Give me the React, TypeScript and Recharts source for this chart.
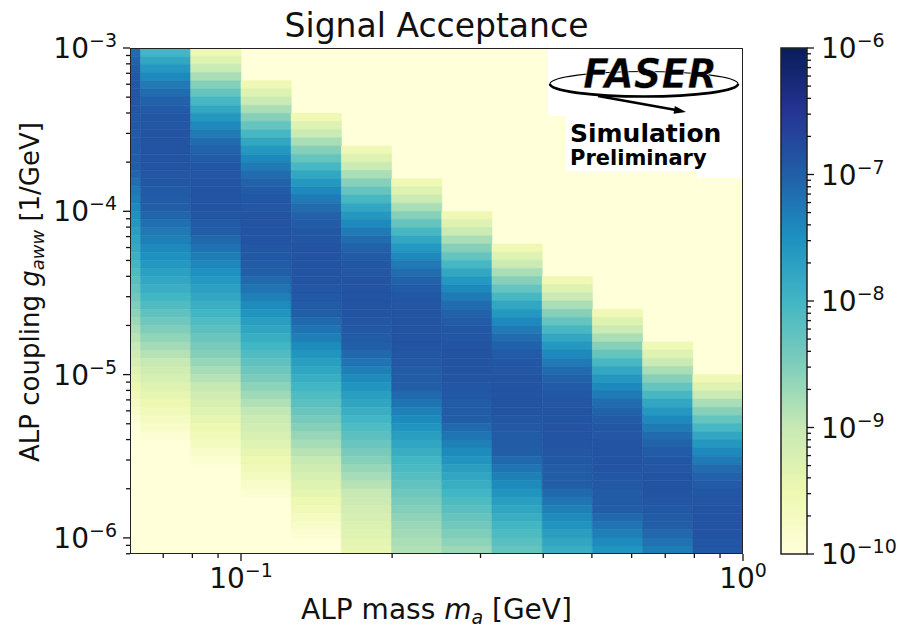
import React from 'react';
import { ComposedChart, XAxis, YAxis, ReferenceArea, Label, Scatter } from 'recharts';

const FONT = '"DejaVu Sans", "Liberation Sans", sans-serif';
const INK = '#111';

// ALP mass bin edges [GeV]
const massBinEdges = [0.0501, 0.0631, 0.0794, 0.1, 0.1259, 0.1585, 0.1995, 0.2512, 0.3162, 0.3981, 0.5012, 0.631, 0.7943, 1.0];

// log10 of the coupling bin edges [1/GeV], top to bottom
const couplingEdgeExp = [
  -3.0, -3.05, -3.1, -3.15, -3.2, -3.25, -3.3, -3.35, -3.4, -3.45,
  -3.5, -3.55, -3.6, -3.65, -3.7, -3.75, -3.8, -3.85, -3.9, -3.95,
  -4.0, -4.05, -4.1, -4.15, -4.2, -4.25, -4.3, -4.35, -4.4, -4.45,
  -4.5, -4.55, -4.6, -4.65, -4.7, -4.75, -4.8, -4.85, -4.9, -4.95,
  -5.0, -5.05, -5.1, -5.15, -5.2, -5.25, -5.3, -5.35, -5.4, -5.45,
  -5.5, -5.55, -5.6, -5.65, -5.7, -5.75, -5.8, -5.85, -5.9, -5.95,
  -6.0, -6.05, -6.1,
];

// first coupling row (index into couplingEdgeExp) with a non-zero acceptance, per mass column
const columnTopRow = [0, 0, 0, 4, 8, 12, 16, 20, 24, 28, 32, 36, 40];

// log10(signal acceptance), per mass column, from its top row downwards
const acc0 = [-7.14, -7.05, -6.98, -6.94, -6.92, -6.91, -6.91, -6.92, -6.93, -6.94,
  -6.95, -6.96, -6.98, -6.99, -7.0, -7.08, -7.17, -7.25, -7.33, -7.42,
  -7.5, -7.58, -7.67, -7.75, -7.83, -7.92, -8.0, -8.1, -8.2, -8.3,
  -8.4, -8.5, -8.6, -8.7, -8.8, -8.9, -9.0, -9.1, -9.2, -9.3,
  -9.4, -9.5, -9.6, -9.7, -9.8, -9.9, -10];
const acc1 = [-8.0, -7.8, -7.6, -7.42, -7.27, -7.14, -7.04, -6.97, -6.92, -6.9,
  -6.88, -6.87, -6.87, -6.87, -6.88, -6.9, -6.92, -6.95, -6.98, -7.0,
  -7.08, -7.17, -7.25, -7.33, -7.42, -7.5, -7.6, -7.7, -7.8, -7.9,
  -8.0, -8.12, -8.25, -8.37, -8.5, -8.62, -8.75, -8.87, -9.0, -9.1,
  -9.2, -9.3, -9.4, -9.5, -9.6, -9.7, -9.8, -9.9, -10];
const acc2 = [-9.55, -9.3, -9.05, -8.8, -8.55, -8.3, -8.05, -7.8, -7.6, -7.42,
  -7.27, -7.14, -7.04, -6.97, -6.92, -6.9, -6.88, -6.87, -6.87, -6.88,
  -6.92, -6.96, -7.0, -7.1, -7.2, -7.3, -7.4, -7.5, -7.6, -7.7,
  -7.8, -7.9, -8.0, -8.11, -8.22, -8.33, -8.44, -8.55, -8.66, -8.77,
  -8.88, -9.0, -9.1, -9.2, -9.3, -9.4, -9.5, -9.6, -9.7, -9.8,
  -9.9, -10];
const acc3 = [-9.55, -9.3, -9.05, -8.8, -8.55, -8.3, -8.05, -7.8, -7.6, -7.42,
  -7.27, -7.14, -7.04, -6.97, -6.92, -6.9, -6.88, -6.87, -6.87, -6.88,
  -6.9, -6.93, -6.96, -7.0, -7.11, -7.22, -7.33, -7.44, -7.56, -7.67,
  -7.78, -7.89, -8.0, -8.12, -8.24, -8.36, -8.48, -8.6, -8.72, -8.84,
  -8.96, -9.05, -9.14, -9.23, -9.32, -9.41, -9.5, -9.6, -9.7, -9.8,
  -9.9, -10];
const acc4 = [-9.55, -9.3, -9.05, -8.8, -8.55, -8.3, -8.05, -7.8, -7.6, -7.42,
  -7.27, -7.14, -7.04, -6.97, -6.92, -6.9, -6.88, -6.87, -6.87, -6.87,
  -6.88, -6.9, -6.93, -6.96, -7.0, -7.11, -7.22, -7.33, -7.44, -7.56,
  -7.67, -7.78, -7.89, -8.0, -8.11, -8.22, -8.33, -8.44, -8.55, -8.66,
  -8.77, -8.88, -9.0, -9.1, -9.2, -9.3, -9.4, -9.5, -9.6, -9.7,
  -9.8, -9.9, -10];
const acc5 = [-9.55, -9.3, -9.05, -8.8, -8.55, -8.3, -8.05, -7.8, -7.6, -7.42,
  -7.27, -7.14, -7.04, -6.97, -6.92, -6.9, -6.88, -6.87, -6.87, -6.87,
  -6.88, -6.9, -6.93, -6.96, -7.0, -7.11, -7.22, -7.33, -7.44, -7.56,
  -7.67, -7.78, -7.89, -8.0, -8.11, -8.22, -8.33, -8.44, -8.55, -8.66,
  -8.77, -8.88, -9.0, -9.07, -9.14, -9.2, -9.26, -9.32, -9.38, -9.44];
const acc6 = [-9.55, -9.3, -9.05, -8.8, -8.55, -8.3, -8.05, -7.8, -7.6, -7.42,
  -7.27, -7.14, -7.04, -6.97, -6.92, -6.9, -6.88, -6.87, -6.87, -6.87,
  -6.88, -6.9, -6.93, -6.96, -6.98, -7.0, -7.11, -7.22, -7.33, -7.44,
  -7.56, -7.67, -7.78, -7.89, -8.0, -8.09, -8.18, -8.27, -8.36, -8.45,
  -8.53, -8.61, -8.68, -8.74, -8.8, -8.85];
const acc7 = [-9.55, -9.3, -9.05, -8.8, -8.55, -8.3, -8.05, -7.8, -7.6, -7.42,
  -7.27, -7.14, -7.04, -6.97, -6.92, -6.9, -6.88, -6.87, -6.87, -6.87,
  -6.88, -6.9, -6.93, -6.96, -6.98, -7.0, -7.11, -7.22, -7.33, -7.44,
  -7.56, -7.67, -7.78, -7.89, -8.0, -8.1, -8.2, -8.3, -8.4, -8.5,
  -8.6, -8.7];
const acc8 = [-9.55, -9.3, -9.05, -8.8, -8.55, -8.3, -8.05, -7.8, -7.6, -7.42,
  -7.27, -7.14, -7.04, -6.97, -6.92, -6.9, -6.88, -6.87, -6.87, -6.87,
  -6.88, -6.9, -6.93, -6.96, -6.98, -7.0, -7.11, -7.22, -7.33, -7.44,
  -7.56, -7.67, -7.78, -7.89, -8.0, -8.1, -8.2, -8.3];
const acc9 = [-9.55, -9.3, -9.05, -8.8, -8.55, -8.3, -8.05, -7.8, -7.6, -7.42,
  -7.27, -7.14, -7.04, -6.97, -6.92, -6.9, -6.88, -6.87, -6.87, -6.87,
  -6.88, -6.9, -6.93, -6.96, -6.98, -7.0, -7.11, -7.22, -7.33, -7.44,
  -7.56, -7.67, -7.78, -7.89];
const acc10 = [-9.55, -9.3, -9.05, -8.8, -8.55, -8.3, -8.05, -7.8, -7.6, -7.42,
  -7.27, -7.14, -7.04, -6.97, -6.92, -6.9, -6.88, -6.87, -6.87, -6.88,
  -6.9, -6.93, -6.96, -6.98, -7.0, -7.11, -7.22, -7.33, -7.44, -7.56];
const acc11 = [-9.55, -9.3, -9.05, -8.8, -8.55, -8.3, -8.05, -7.8, -7.6, -7.42,
  -7.27, -7.14, -7.04, -6.97, -6.92, -6.9, -6.88, -6.87, -6.88, -6.9,
  -6.93, -6.96, -7.0, -7.1, -7.2, -7.3];
const acc12 = [-9.55, -9.3, -9.05, -8.8, -8.55, -8.3, -8.05, -7.8, -7.6, -7.42,
  -7.27, -7.14, -7.04, -6.97, -6.92, -6.9, -6.88, -6.87, -6.87, -6.88,
  -6.9, -6.92];
const acceptanceColumns = [acc0, acc1, acc2, acc3, acc4, acc5, acc6, acc7, acc8, acc9, acc10, acc11, acc12];

// axis ticks
const xMajorTicks = [0.1, 1];
const xMinorTicks = [0.07, 0.08, 0.09, 0.2, 0.3, 0.4, 0.5, 0.6, 0.7, 0.8, 0.9];
const yMajorTicks = [1e-6, 1e-5, 1e-4, 1e-3];
const yMinorTicks = [8e-7, 9e-7,
  2e-6, 3e-6, 4e-6, 5e-6, 6e-6, 7e-6, 8e-6, 9e-6,
  2e-5, 3e-5, 4e-5, 5e-5, 6e-5, 7e-5, 8e-5, 9e-5,
  2e-4, 3e-4, 4e-4, 5e-4, 6e-4, 7e-4, 8e-4, 9e-4];
const cbMajorTicks = [1e-10, 1e-9, 1e-8, 1e-7, 1e-6];
const cbMinorTicks = [
  2e-10, 3e-10, 4e-10, 5e-10, 6e-10, 7e-10, 8e-10, 9e-10,
  2e-9, 3e-9, 4e-9, 5e-9, 6e-9, 7e-9, 8e-9, 9e-9,
  2e-8, 3e-8, 4e-8, 5e-8, 6e-8, 7e-8, 8e-8, 9e-8,
  2e-7, 3e-7, 4e-7, 5e-7, 6e-7, 7e-7, 8e-7, 9e-7];

const X_MIN = 0.0601;
const Y_MIN = 7.97e-7;
const C_MIN_EXP = -10;
const C_MAX_EXP = -6;

const YLGNBU = ['#ffffd9', '#edf8b1', '#c7e9b4', '#7fcdbb', '#41b6c4', '#1d91c0', '#225ea8', '#253494', '#081d58'];
const hexToRgb = (h: string) => [parseInt(h.slice(1, 3), 16), parseInt(h.slice(3, 5), 16), parseInt(h.slice(5, 7), 16)];
const colorFor = (lv: number) => {
  const t = Math.max(0, Math.min(1, (lv - C_MIN_EXP) / (C_MAX_EXP - C_MIN_EXP)));
  const p = t * (YLGNBU.length - 1);
  const i = Math.min(Math.floor(p), YLGNBU.length - 2);
  const f = p - i;
  const a = hexToRgb(YLGNBU[i]);
  const b = hexToRgb(YLGNBU[i + 1]);
  const c = a.map((v, k) => Math.round(v + (b[k] - v) * f));
  return `rgb(${c[0]},${c[1]},${c[2]})`;
};

type Cell = { x1: number; x2: number; y1: number; y2: number; m: number; g: number; color: string };
const cells: Cell[] = [];
acceptanceColumns.forEach((col, i) => {
  col.forEach((v, j) => {
    const r = columnTopRow[i] + j;
    if (v <= C_MIN_EXP || r + 1 >= couplingEdgeExp.length) return;
    const x1 = massBinEdges[i];
    const x2 = massBinEdges[i + 1];
    const y1 = Math.pow(10, couplingEdgeExp[r + 1]);
    const y2 = Math.pow(10, couplingEdgeExp[r]);
    cells.push({ x1, x2, y1, y2, m: Math.sqrt(x1 * x2), g: Math.sqrt(y1 * y2), color: colorFor(v) });
  });
});
const anchorPoints = cells.filter((c) => c.m > X_MIN && c.g > Y_MIN).map((c) => ({ m: c.m, g: c.g }));
const cbAnchor = [{ u: 0.5, a: 1e-8 }];

const expOf = (v: number) => Math.round(Math.log10(v));
const isMajor = (v: number) => Math.abs(Math.log10(v) - Math.round(Math.log10(v))) < 1e-6;
const expText = (e: number) => (e < 0 ? '\u2212' : '') + Math.abs(e);
const NoShape = () => <g />;

const XTick = (props: any) => {
  const { x, y, payload } = props;
  const v = payload.value;
  const major = isMajor(v);
  return (
    <g>
      <line x1={x} x2={x} y1={y} y2={y + (major ? 7 : 4)} stroke={INK} strokeWidth={1.3} />
      {major && (
        <text x={x} y={y + 34} textAnchor="middle" fontFamily={FONT} fontSize={28} fill={INK}>
          10<tspan dy={-11} fontSize={19}>{expText(expOf(v))}</tspan>
        </text>
      )}
    </g>
  );
};

const YTick = (props: any) => {
  const { x, y, payload } = props;
  const v = payload.value;
  const major = isMajor(v);
  return (
    <g>
      <line x1={x - (major ? 7 : 4)} x2={x} y1={y} y2={y} stroke={INK} strokeWidth={1.3} />
      {major && (
        <text x={x - 13} y={y + 10} textAnchor="end" fontFamily={FONT} fontSize={28} fill={INK}>
          10<tspan dy={-11} fontSize={19}>{expText(expOf(v))}</tspan>
        </text>
      )}
    </g>
  );
};

const CbTick = (props: any) => {
  const { x, y, payload } = props;
  const v = payload.value;
  const major = isMajor(v);
  return (
    <g>
      <line x1={x} x2={x + (major ? 7 : 4)} y1={y} y2={y} stroke={INK} strokeWidth={1.3} />
      {major && (
        <text x={x + 14} y={y + 10} textAnchor="start" fontFamily={FONT} fontSize={28} fill={INK}>
          10<tspan dy={-11} fontSize={19}>{expText(expOf(v))}</tspan>
        </text>
      )}
    </g>
  );
};

const XLabel = (props: any) => {
  const vb = props.viewBox || { x: 130, y: 554, width: 613, height: 60 };
  const cx = vb.x + vb.width / 2;
  return (
    <text x={cx} y={vb.y + 65} textAnchor="middle" fontFamily={FONT} fontSize={28} fill={INK}>
      ALP mass <tspan fontStyle="italic">m</tspan>
      <tspan fontStyle="italic" fontSize={19} dy={5}>a</tspan>
      <tspan dy={-5}> [GeV]</tspan>
    </text>
  );
};

const YLabel = (props: any) => {
  const vb = props.viewBox || { x: 0, y: 48, width: 130, height: 506 };
  const cy = vb.y + vb.height / 2 - 9;
  return (
    <text transform={`translate(39, ${cy}) rotate(-90)`} textAnchor="middle" fontFamily={FONT} fontSize={26} fill={INK}>
      ALP coupling <tspan fontStyle="italic">g</tspan>
      <tspan fontStyle="italic" fontSize={18} dy={5}>aww</tspan>
      <tspan dy={-5}> [1/GeV]</tspan>
    </text>
  );
};

export default function App() {
  return (
    <div style={{ position: 'absolute', left: 0, top: 0, width: 898, height: 629, background: '#fff', overflow: 'hidden' }}>
      <div style={{ position: 'absolute', left: 0, top: 0 }}>
        <ComposedChart width={898} height={629} margin={{ top: 48, right: 155, bottom: 15, left: 0 }}>
          <XAxis
            xAxisId="m"
            dataKey="m"
            type="number"
            scale="log"
            domain={[X_MIN, 1]}
            allowDataOverflow
            ticks={[...xMinorTicks, ...xMajorTicks]}
            interval={0}
            tick={(p: any) => <XTick {...p} />}
            tickLine={false}
            axisLine={false}
            tickSize={0}
            tickMargin={0}
            height={60}
          >
            <Label content={(p: any) => <XLabel {...p} />} />
          </XAxis>
          <YAxis
            yAxisId="g"
            dataKey="g"
            type="number"
            scale="log"
            domain={[Y_MIN, 1e-3]}
            allowDataOverflow
            ticks={[...yMinorTicks, ...yMajorTicks]}
            interval={0}
            tick={(p: any) => <YTick {...p} />}
            tickLine={false}
            axisLine={false}
            tickSize={0}
            tickMargin={0}
            width={130}
          >
            <Label content={(p: any) => <YLabel {...p} />} />
          </YAxis>
          <Scatter xAxisId="m" yAxisId="g" data={anchorPoints} dataKey="g" shape={NoShape} isAnimationActive={false} />
          <ReferenceArea xAxisId="m" yAxisId="g" x1={X_MIN} x2={1} y1={Y_MIN} y2={1e-3}
            fill="#ffffd9" fillOpacity={1} stroke="none" ifOverflow="hidden" />
          {cells.map((c, k) => (
            <ReferenceArea
              key={k}
              xAxisId="m"
              yAxisId="g"
              x1={c.x1}
              x2={c.x2}
              y1={c.y1}
              y2={c.y2}
              fill={c.color}
              fillOpacity={1}
              stroke={c.color}
              strokeWidth={0.6}
              ifOverflow="hidden"
            />
          ))}
        </ComposedChart>
      </div>
      <div style={{ position: 'absolute', left: 0, top: 0 }}>
        <ComposedChart width={898} height={629} margin={{ top: 48, right: 0, bottom: 75, left: 781 }}>
          <XAxis xAxisId="c" dataKey="u" type="number" domain={[0, 1]} allowDataOverflow hide />
          <YAxis
            yAxisId="c"
            dataKey="a"
            orientation="right"
            type="number"
            scale="log"
            domain={[1e-10, 1e-6]}
            allowDataOverflow
            ticks={[...cbMinorTicks, ...cbMajorTicks]}
            interval={0}
            tick={(p: any) => <CbTick {...p} />}
            tickLine={false}
            axisLine={false}
            tickSize={0}
            tickMargin={0}
            width={91}
          />
          <Scatter xAxisId="c" yAxisId="c" data={cbAnchor} dataKey="a" shape={NoShape} isAnimationActive={false} />
          <ReferenceArea xAxisId="c" yAxisId="c" x1={0} x2={1} y1={1e-10} y2={1e-6}
            fill="url(#ylgnbuBar)" fillOpacity={1} stroke="#222" strokeWidth={1.5} ifOverflow="visible" />
        </ComposedChart>
      </div>
      <svg width={898} height={629} style={{ position: 'absolute', left: 0, top: 0, pointerEvents: 'none' }}>
        <defs>
          <linearGradient id="ylgnbuBar" x1="0" y1="1" x2="0" y2="0">
            {YLGNBU.map((c, i) => (
              <stop key={i} offset={`${(i / (YLGNBU.length - 1)) * 100}%`} stopColor={c} />
            ))}
          </linearGradient>
        </defs>
        <text x={436.5} y={37} textAnchor="middle" fontFamily={FONT} fontSize={33} fill={INK}>Signal Acceptance</text>
        <rect x={548} y={49} width={194} height={67} fill="#fff" />
        <rect x={566} y={115} width={176} height={56} fill="#fff" />
        <rect x={697} y={170} width={45} height={8} fill="#fff" />
        <ellipse cx={644} cy={84} rx={94} ry={12.5} fill="none" stroke="#000" strokeWidth={1.2} />
        <path d="M 550 84 A 94 12.5 0 0 0 738 84" fill="none" stroke="#000" strokeWidth={2.6} />
        <line x1={598} y1={96} x2={676} y2={110} stroke="#000" strokeWidth={2.6} />
        <polygon points="686,112 673.5,113.8 674.9,106" fill="#000" />
        <text x={583} y={88} fontFamily={FONT} fontWeight="bold" fontStyle="italic" fontSize={40}
          textLength={134} lengthAdjust="spacingAndGlyphs" fill="#000" stroke="#fff" strokeWidth={0.5}>FASER</text>
        <text x={570} y={142} fontFamily={FONT} fontWeight="bold" fontSize={25} fill="#000">Simulation</text>
        <text x={570} y={165} fontFamily={FONT} fontWeight="bold" fontSize={21} fill="#000">Preliminary</text>
      </svg>
      <div style={{ position: 'absolute', left: 130, top: 48, width: 613, height: 506, boxSizing: 'border-box', border: '1.5px solid #222', pointerEvents: 'none' }} />
    </div>
  );
}
